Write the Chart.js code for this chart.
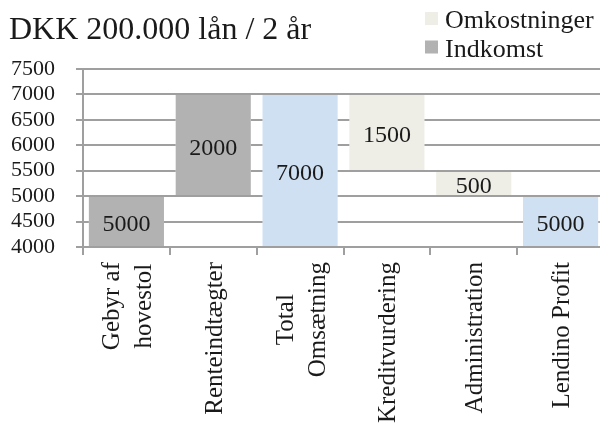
<!DOCTYPE html>
<html>
<head>
<meta charset="utf-8">
<script src="https://cdn.jsdelivr.net/npm/chart.js@4"></script>
<style>
  html, body { margin: 0; padding: 0; background: #fff; overflow: hidden; }
  #wrap { width: 604px; height: 425px; }
</style>
</head>
<body>
<div id="wrap"><canvas id="chart"></canvas></div>
<script>
// ================= DATA =================
const titleText = "DKK 200.000 lån / 2 år";
const categories = [["Gebyr af", "hovestol"], "Renteindtægter", ["Total", "Omsætning"], "Kreditvurdering", "Administration", "Lendino Profit"];
const amounts = [5000, 2000, 7000, 1500, 500, 5000];
const starts = [0, 5000, 0, 5500, 5000, 0];
const kinds = ["Indkomst", "Indkomst", "Total", "Omkostninger", "Omkostninger", "Total"];
const yTicks = [4000, 4500, 5000, 5500, 6000, 6500, 7000, 7500];

const colors = {
  Omkostninger: "#eeeee6",
  Indkomst: "#b2b2b2",
  Total: "#cfe0f2"
};
const legendItems = ["Omkostninger", "Indkomst"];
const serif = "'Liberation Serif', 'Times New Roman', serif";
const textColor = "#1a1a1a";
const gridColor = "#9f9f9f";

function seriesFor(kind) {
  return categories.map((_, i) => kinds[i] === kind ? [starts[i], starts[i] + amounts[i]] : null);
}

// ================= PLUGINS =================
// horizontal grid lines as thin filled strips, skipping the parts behind bars
const gridPlugin = {
  id: "gridLines",
  afterDraw(chart) {
    const { ctx, chartArea, scales } = chart;
    const rects = [];
    chart.data.datasets.forEach((ds, di) => {
      chart.getDatasetMeta(di).data.forEach((bar, i) => {
        if (ds.data[i] == null) return;
        rects.push({
          x0: bar.x - bar.width / 2,
          x1: bar.x + bar.width / 2,
          top: Math.max(Math.min(bar.y, bar.base), chartArea.top),
          bottom: Math.min(Math.max(bar.y, bar.base), chartArea.bottom)
        });
      });
    });
    ctx.save();
    ctx.globalCompositeOperation = "source-over";
    ctx.globalAlpha = 1;
    ctx.fillStyle = gridColor;
    yTicks.forEach(v => {
      const y = Math.round(scales.y.getPixelForValue(v));
      const cover = rects
        .filter(r => y > r.top + 1 && y < r.bottom - 1)
        .sort((a, b) => a.x0 - b.x0);
      let x = chartArea.left;
      cover.forEach(r => {
        if (r.x0 > x) ctx.fillRect(x, y - 1, r.x0 - x, 2);
        x = Math.max(x, r.x1);
      });
      if (x < chartArea.right) ctx.fillRect(x, y - 1, chartArea.right - x, 2);
    });
    ctx.restore();
  }
};

// value inside each bar
const valueLabels = {
  id: "valueLabels",
  afterDraw(chart) {
    const ctx = chart.ctx;
    const area = chart.chartArea;
    ctx.save();
    ctx.font = "24px " + serif;
    ctx.fillStyle = textColor;
    ctx.textAlign = "center";
    ctx.textBaseline = "middle";
    chart.data.datasets.forEach((ds, di) => {
      chart.getDatasetMeta(di).data.forEach((bar, i) => {
        if (ds.data[i] == null) return;
        const top = Math.max(bar.y, area.top);
        const bottom = Math.min(bar.base, area.bottom);
        ctx.fillText(String(amounts[i]), bar.x, (top + bottom) / 2 + 3);
      });
    });
    ctx.restore();
  }
};

// category labels, rotated, lines centred on each other
const xLabels = {
  id: "xLabels",
  afterDraw(chart) {
    const ctx = chart.ctx;
    const xs = chart.scales.x;
    const lineH = 32;
    ctx.save();
    ctx.font = "25px " + serif;
    ctx.fillStyle = textColor;
    ctx.textBaseline = "middle";
    ctx.textAlign = "center";
    categories.forEach((c, i) => {
      const lines = Array.isArray(c) ? c : [c];
      const maxW = Math.max(...lines.map(l => ctx.measureText(l).width));
      const x = xs.getPixelForValue(i) + 2;
      const y0 = chart.chartArea.bottom + 15;
      ctx.save();
      ctx.translate(x, y0);
      ctx.rotate(-Math.PI / 2);
      lines.forEach((l, j) => {
        ctx.fillText(l, -maxW / 2, (j - (lines.length - 1) / 2) * lineH);
      });
      ctx.restore();
    });
    ctx.restore();
  }
};

const headerPlugin = {
  id: "header",
  afterDraw(chart) {
    const ctx = chart.ctx;
    ctx.save();
    ctx.fillStyle = textColor;
    ctx.textBaseline = "alphabetic";
    ctx.textAlign = "left";
    ctx.font = "32px " + serif;
    ctx.fillText(titleText, 9, 39);

    ctx.font = "26px " + serif;
    legendItems.forEach((name, i) => {
      const y = 12 + i * 28.5;
      ctx.fillStyle = colors[name];
      ctx.fillRect(425, y, 13, 13);
      ctx.fillStyle = textColor;
      ctx.fillText(name, 445, y + 16);
    });
    ctx.restore();
  }
};

// ================= CHART =================
const ctx = document.getElementById("chart").getContext("2d");
new Chart(ctx, {
  type: "bar",
  data: {
    labels: categories,
    datasets: ["Omkostninger", "Indkomst", "Total"].map(kind => ({
      label: kind,
      data: seriesFor(kind),
      backgroundColor: colors[kind],
      borderWidth: 0,
      grouped: false,
      categoryPercentage: 1,
      barPercentage: 0.865
    }))
  },
  options: {
    responsive: true,
    maintainAspectRatio: false,
    animation: false,
    layout: { padding: { top: 69, left: 11, right: 0, bottom: 170 } },
    plugins: {
      legend: { display: false },
      title: { display: false },
      tooltip: { enabled: false }
    },
    scales: {
      x: {
        offset: true,
        grid: {
          offset: true,
          drawOnChartArea: false,
          drawTicks: true,
          tickLength: 8,
          color: gridColor,
          lineWidth: 2
        },
        border: { display: true, color: gridColor, width: 2 },
        ticks: { display: false }
      },
      y: {
        min: 4000,
        max: 7500,
        afterBuildTicks(scale) {
          scale.ticks = yTicks.map(v => ({ value: v }));
        },
        afterFit(scale) {
          // label (44) + padding (21) + tick (7)
          scale.width = 72;
        },
        grid: {
          drawOnChartArea: false,
          color: gridColor,
          lineWidth: 2,
          drawTicks: true,
          tickLength: 7
        },
        border: { display: true, color: gridColor, width: 2 },
        ticks: {
          autoSkip: false,
          padding: 21,
          color: textColor,
          font: { family: serif, size: 22, lineHeight: 1 },
          callback: v => String(v)
        }
      }
    }
  },
  plugins: [gridPlugin, valueLabels, xLabels, headerPlugin]
});
</script>
</body>
</html>
